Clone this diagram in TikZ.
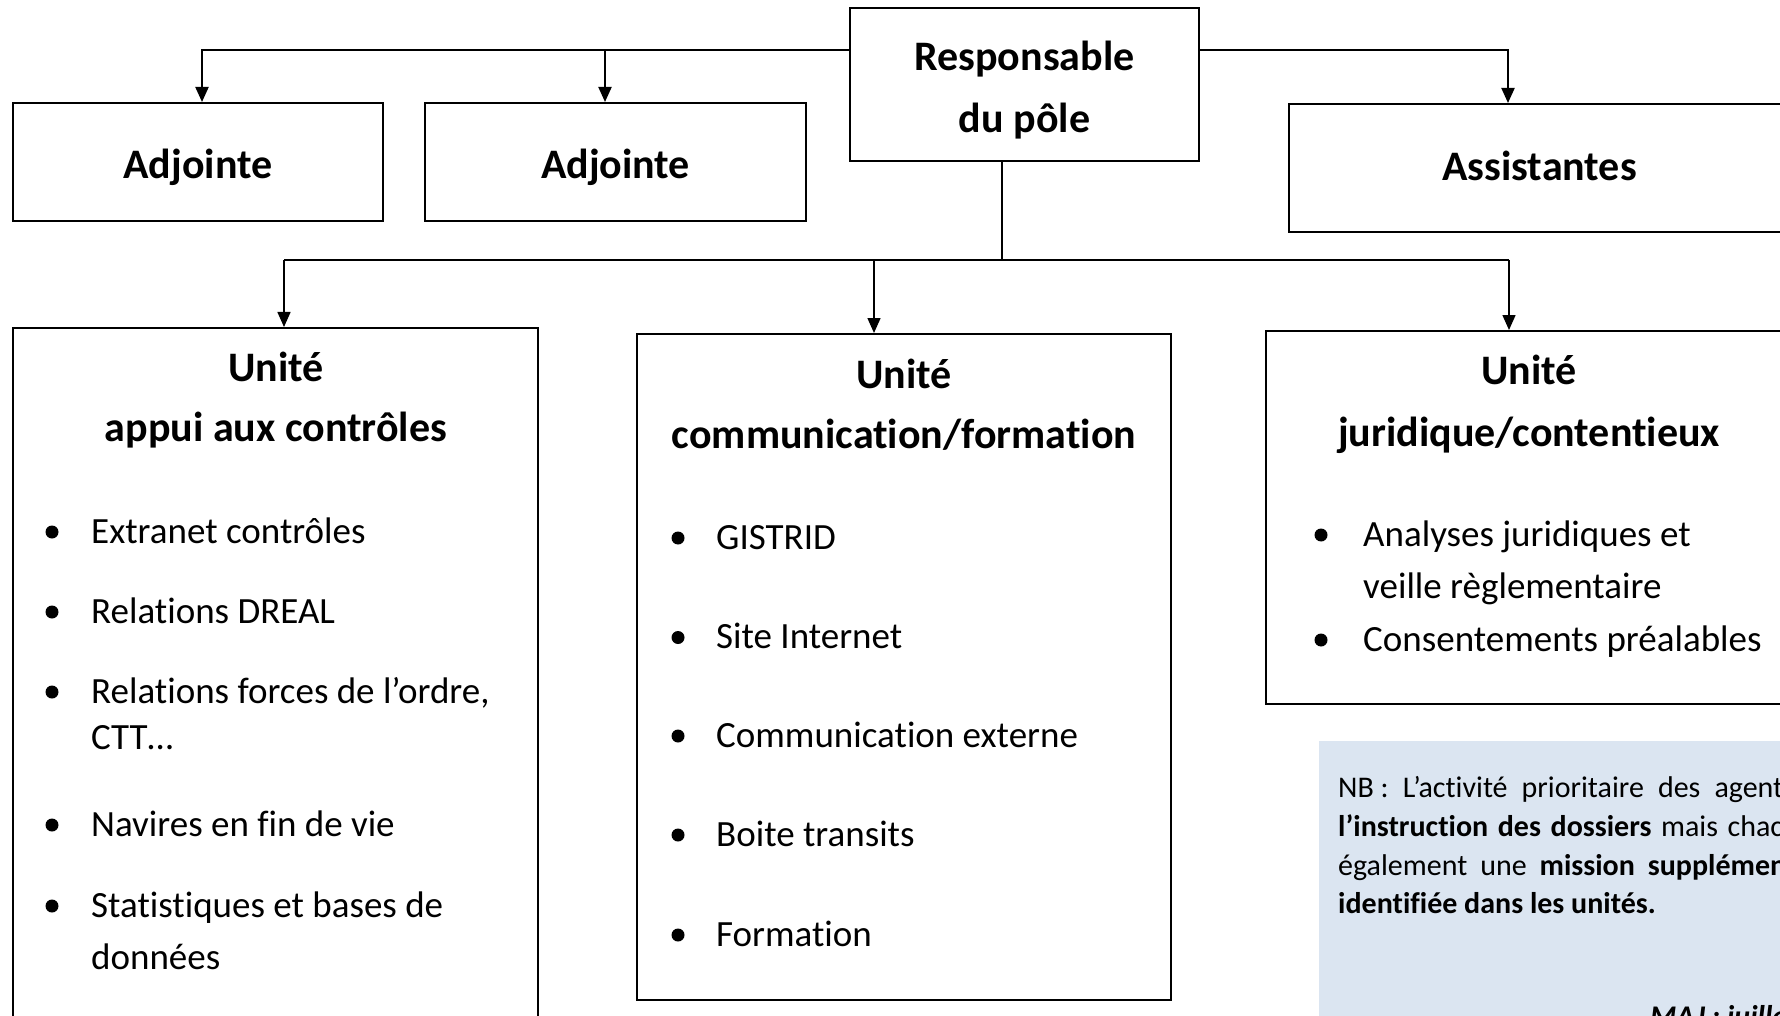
\documentclass[tikz,border=0pt]{standalone}
\usepackage{fontspec}
\setmainfont{Carlito}[Ligatures=NoCommon]
\usetikzlibrary{arrows.meta}
\definecolor{nbfill}{HTML}{DBE5F1}
\begin{document}
\begin{tikzpicture}[x=1pt,y=-1pt,
  box/.style={draw=black, line width=2pt, rectangle, inner sep=0pt},
  ttl/.style={font=\fontsize{42}{60}\selectfont\bfseries, inner sep=0pt},
  itm/.style={font=\fontsize{37}{44}\selectfont, inner sep=0pt, anchor=base west},
  bul/.style={circle, fill=black, inner sep=0pt, minimum size=13pt},
  nbt/.style={font=\fontsize{30}{39}\selectfont, inner sep=0pt, anchor=base west},
  majt/.style={font=\fontsize{30}{39}\selectfont\bfseries\itshape, inner sep=0pt, anchor=base west},
  upl/.style={line width=2pt},
  lowl/.style={line width=1.5pt},
  arr/.style={-{Triangle[length=15pt,width=13pt]}},
]
\useasboundingbox (0,0) rectangle (1780,1016);
\clip (0,0) rectangle (1780,1016);

% top level boxes
\node[box, minimum width=349pt, minimum height=153pt] (resp) at (1024.5,84.5) {};
\node[ttl, anchor=base] (respT1) at (1024.5,71) {Responsable};
\node[ttl, anchor=base] (respT2) at (1024.5,133) {du pôle};
\node[box, ttl, text height=32.6pt, text depth=0pt, minimum width=370pt, minimum height=118pt] (adj1) at (198,162) {Adjointe};
\node[box, ttl, text height=32.6pt, text depth=0pt, minimum width=381pt, minimum height=118pt] (adj2) at (615.5,162) {Adjointe};
\node[box, ttl, text height=24.3pt, text depth=0pt, minimum width=501pt, minimum height=128pt] (asst) at (1539.5,168) {Assistantes};

% unit boxes
\node[box, minimum width=525pt, minimum height=712pt] (ua) at (275.5,684) {};
\node[box, minimum width=534pt, minimum height=666pt] (uc) at (904,667) {};
\node[box, minimum width=526pt, minimum height=373pt] (uj) at (1529,517.5) {};

% unit titles
\node[ttl, anchor=base] (uat1) at (276,381) {Unité};
\node[ttl, anchor=base] (uat2) at (276,441.5) {appui aux contrôles};
\node[ttl, anchor=base] (uct1) at (904,388) {Unité};
\node[ttl, anchor=base] (uct2) at (904,448.5) {communication/formation};
\node[ttl, anchor=base] (ujt1) at (1529,384) {Unité};
\node[ttl, anchor=base] (ujt2) at (1529,446) {juridique/contentieux};

% left unit items
\node[bul] (ab1) at (52,532) {};
\node[itm] (ai1) at (91,543) {Extranet contrôles};
\node[bul] (ab2) at (52,612) {};
\node[itm] (ai2) at (91,623) {Relations DREAL};
\node[bul] (ab3) at (52,692) {};
\node[itm] (ai3) at (91,703) {Relations forces de l’ordre,};
\node[itm] (ai3b) at (91,749.5) {CTT…};
\node[bul] (ab4) at (52,825) {};
\node[itm] (ai4) at (91,836) {Navires en fin de vie};
\node[bul] (ab5) at (52,906) {};
\node[itm] (ai5) at (91,917) {Statistiques et bases de};
\node[itm] (ai5b) at (91,969) {données};

% middle unit items
\node[bul] (cb1) at (678,538) {};
\node[itm] (ci1) at (716,549) {GISTRID};
\node[bul] (cb2) at (678,637.5) {};
\node[itm] (ci2) at (716,648.5) {Site Internet};
\node[bul] (cb3) at (678,736) {};
\node[itm] (ci3) at (716,747) {Communication externe};
\node[bul] (cb4) at (678,835) {};
\node[itm] (ci4) at (716,846) {Boite transits};
\node[bul] (cb5) at (678,935) {};
\node[itm] (ci5) at (716,946) {Formation};

% right unit items
\node[bul] (jb1) at (1321,535) {};
\node[itm] (ji1) at (1363,546) {Analyses juridiques et};
\node[itm] (ji1b) at (1363,598) {veille règlementaire};
\node[bul] (jb2) at (1321,640) {};
\node[itm] (ji2) at (1363,651) {Consentements préalables};

% NB box
\node[fill=nbfill, inner sep=0pt, minimum width=560pt, minimum height=320pt, anchor=north west] (nb) at (1319,741) {};
\node[nbt] (nb1) at (1338,797) {\hbox to 445pt{NB~:\hfill L’activité\hfill prioritaire\hfill des\hfill agent}};
\node[nbt] (nb2) at (1338,836) {\hbox to 445pt{\bfseries l’instruction\hfill des\hfill dossiers\mdseries\hfill mais\hfill chac}};
\node[nbt] (nb3) at (1338,875) {\hbox to 448pt{également\hfill une\hfill \bfseries mission\hfill supplémen}};
\node[nbt] (nb4) at (1338,913) {\bfseries identifiée dans les unités.};
\node[majt] (maj) at (1650,1026) {MAJ : juillet};

% connectors
\coordinate (yT) at (0,50);
\coordinate (yL) at (0,260);
\coordinate (xA1) at (202,0);
\coordinate (xA2) at (605,0);
\coordinate (xAs) at (1508,0);
\coordinate (xSt) at (1002,0);
\coordinate (xL1) at (284,0);
\coordinate (xL2) at (874,0);
\coordinate (xL3) at (1509,0);

\draw[upl, arr] (resp.west |- yT) -| (xA1 |- adj1.north);
\draw[upl, arr] (xA2 |- yT) -- (xA2 |- adj2.north);
\draw[upl, arr] (resp.east |- yT) -| (xAs |- asst.north);
\draw[lowl] (xSt |- resp.south) -- (xSt |- yL);
\draw[lowl] (xL1 |- yL) -- (xL3 |- yL);
\draw[lowl, arr] (xL1 |- yL) -- (xL1 |- ua.north);
\draw[lowl, arr] (xL2 |- yL) -- (xL2 |- uc.north);
\draw[lowl, arr] (xL3 |- yL) -- (xL3 |- uj.north);
\end{tikzpicture}
\end{document}
